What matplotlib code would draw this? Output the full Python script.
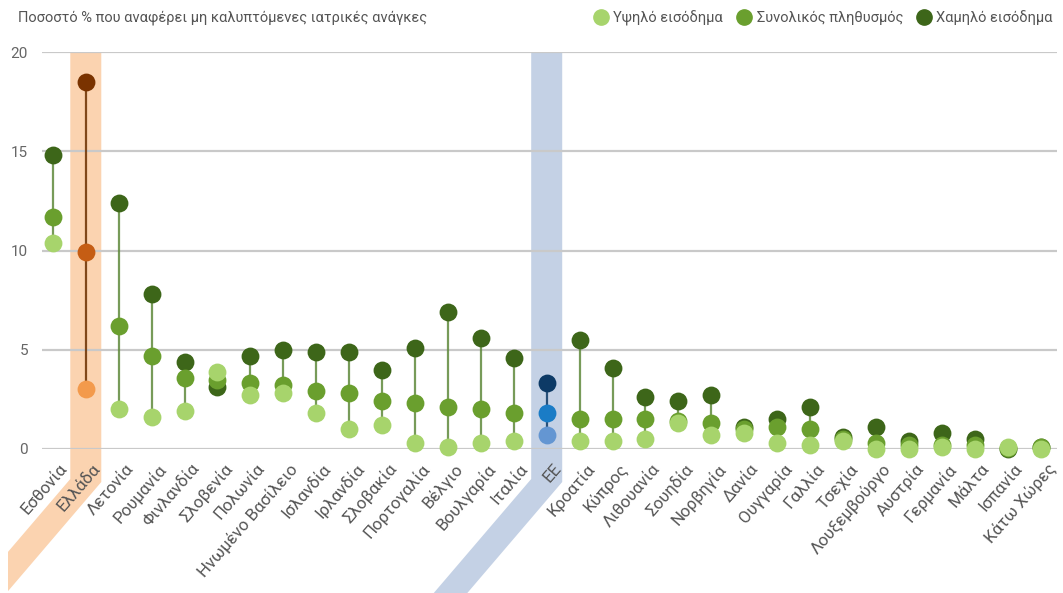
import matplotlib

matplotlib.use("Agg")
import matplotlib.pyplot as plt
from matplotlib.patches import Polygon, Rectangle
from matplotlib.lines import Line2D

plt.rcParams["font.family"] = ["Roboto", "DejaVu Sans"]

countries = [
    "Εσθονία", "Ελλάδα", "Λετονία", "Ρουμανία", "Φινλανδία", "Σλοβενία",
    "Πολωνία", "Ηνωμένο Βασίλειο", "Ισλανδία", "Ιρλανδία", "Σλοβακία",
    "Πορτογαλία", "Βέλγιο", "Βουλγαρία", "Ιταλία", "ΕΕ", "Κροατία", "Κύπρος",
    "Λιθουανία", "Σουηδία", "Νορβηγία", "Δανία", "Ουγγαρία", "Γαλλία",
    "Τσεχία", "Λουξεμβούργο", "Αυστρία", "Γερμανία", "Μάλτα", "Ισπανία",
    "Κάτω Χώρες",
]
low_income = [14.8, 18.5, 12.4, 7.8, 4.4, 3.1, 4.7, 5.0, 4.9, 4.9, 4.0,
              5.1, 6.9, 5.6, 4.6, 3.3, 5.5, 4.1, 2.6, 2.4, 2.7, 1.1,
              1.5, 2.1, 0.6, 1.1, 0.4, 0.8, 0.5, 0.0, 0.1]
total_pop = [11.7, 9.9, 6.2, 4.7, 3.6, 3.5, 3.3, 3.2, 2.9, 2.8, 2.4,
             2.3, 2.1, 2.0, 1.8, 1.8, 1.5, 1.5, 1.5, 1.4, 1.3, 1.0,
             1.1, 1.0, 0.5, 0.3, 0.2, 0.2, 0.2, 0.05, 0.1]
high_income = [10.4, 3.0, 2.0, 1.6, 1.9, 3.9, 2.7, 2.8, 1.8, 1.0, 1.2,
               0.3, 0.1, 0.3, 0.4, 0.7, 0.4, 0.4, 0.5, 1.3, 0.7, 0.8,
               0.3, 0.2, 0.4, 0.0, 0.0, 0.1, 0.0, 0.1, 0.0]
y_ticks = [0, 5, 10, 15, 20]

GREEN = {"low": "#3d6619", "mid": "#6a9f2e", "high": "#a7d46c", "line": "#5f8a3c"}
GREECE = {"low": "#7a3300", "mid": "#c55d14", "high": "#f39a4c", "line": "#6b3000"}
EU = {"low": "#0d3a66", "mid": "#1a7cc6", "high": "#6496d2", "line": "#0d3a66"}
BAND = {"Ελλάδα": (GREECE, "#fbd3b0"), "ΕΕ": (EU, "#c4d1e5")}

W, H = 1063, 593
fig = plt.figure(figsize=(W / 100, H / 100), dpi=100, facecolor="white")
ax = fig.add_axes([42 / W, (H - 449) / H, 1015 / W, 397 / H])
ax.set_zorder(2)
ax.patch.set_alpha(0)
ax.set_xlim(-0.33, len(countries) - 0.5)
ax.set_ylim(0, 20)
for s in ax.spines.values():
    s.set_visible(False)
ax.set_yticks(y_ticks)
ax.yaxis.grid(True, color="#c9c9c9", linewidth=1.6)
ax.set_axisbelow(True)
ax.tick_params(axis="y", length=0, labelsize=11, labelcolor="#666666", pad=10)
ax.tick_params(axis="x", length=0)
ax.set_xticks([])

fig.canvas.draw()
clip = Rectangle((8, 0), W, H, transform=None)

for i, name in enumerate(countries):
    pal = BAND[name][0] if name in BAND else GREEN
    lo, mid, hi = low_income[i], total_pop[i], high_income[i]
    ax.plot([i, i], [min(lo, mid, hi), max(lo, mid, hi)], color=pal["line"],
            lw=1.6, alpha=0.85, zorder=3, clip_on=False)
    ax.scatter([i], [lo], s=165, color=pal["low"], zorder=4, clip_on=False, linewidths=0)
    ax.scatter([i], [mid], s=165, color=pal["mid"], zorder=5, clip_on=False, linewidths=0)
    ax.scatter([i], [hi], s=165, color=pal["high"], zorder=6, clip_on=False, linewidths=0)

    xd, y0 = ax.transData.transform((i, 0))
    _, ytop = ax.transData.transform((i, 20))
    if name in BAND:
        half = 15.5
        yb = y0 - 30
        slope = 1.17
        drop = yb + 10
        poly = [
            (xd - half, ytop), (xd + half, ytop), (xd + half, yb - 3),
            (xd + half - (drop - 3) / slope, yb - drop), (xd - half - drop / slope, yb - drop),
            (xd - half, yb),
        ]
        band = Polygon(poly, closed=True, transform=None,
                       facecolor=BAND[name][1], edgecolor="none", zorder=0)
        band.set_clip_path(clip)
        fig.patches.append(band)
    fig.text((xd + 6) / W, (y0 - 12) / H, name, rotation=49, ha="right", va="top",
             rotation_mode="anchor", fontsize=12.2, color="#555555", zorder=3)

fig.text(18 / W, 1 - 18 / H, "Ποσοστό % που αναφέρει μη καλυπτόμενες ιατρικές ανάγκες",
         fontsize=10.5, color="#555555", va="center", ha="left")

handles = [
    Line2D([], [], marker="o", ls="none", ms=11, color=GREEN["high"], label="Υψηλό εισόδημα"),
    Line2D([], [], marker="o", ls="none", ms=11, color=GREEN["mid"], label="Συνολικός πληθυσμός"),
    Line2D([], [], marker="o", ls="none", ms=11, color=GREEN["low"], label="Χαμηλό εισόδημα"),
]
leg = fig.legend(handles=handles, loc="center right", bbox_to_anchor=(1 - 10 / W, 1 - 18 / H),
                 ncol=3, frameon=False, fontsize=10.5, handlelength=0.9, handletextpad=0.4,
                 columnspacing=1.0, borderaxespad=0, borderpad=0)
for t in leg.get_texts():
    t.set_color("#555555")

fig.savefig("out.png", dpi=100, facecolor="white")
